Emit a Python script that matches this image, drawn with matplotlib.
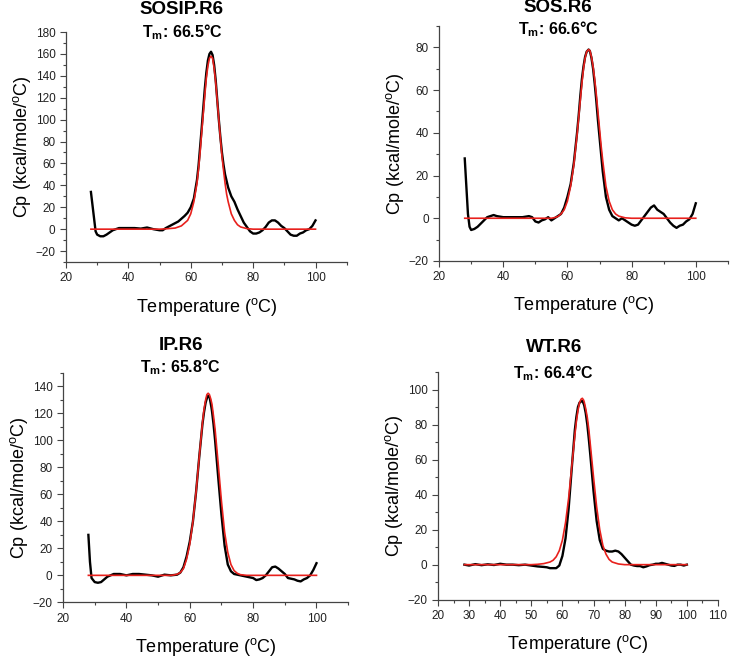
import matplotlib
matplotlib.use("Agg")
import matplotlib.pyplot as plt
from matplotlib.ticker import MultipleLocator

plt.rcParams["font.family"] = ["Liberation Sans", "DejaVu Sans"]
plt.rcParams["mathtext.fontset"] = "custom"
plt.rcParams["mathtext.rm"] = "Liberation Sans"
plt.rcParams["mathtext.bf"] = "Liberation Sans:bold"

# ---- SOSIP.R6 ----
sosip_t = [28, 29, 29.5, 30, 31, 32, 33, 34, 35, 36, 37, 40, 42, 44, 46, 48, 50, 51, 52, 54,
           56, 58, 59, 60, 61, 62, 62.5, 63, 63.5, 64, 64.5, 65, 65.5, 66, 66.5, 67, 67.5, 68,
           68.5, 69, 69.5, 70, 70.5, 71, 72, 73, 74, 75,
           76, 77, 78, 79, 80, 81, 82, 83, 84, 85, 86, 87, 88, 89, 90, 91, 92, 93, 94, 95,
           96, 97, 98, 99, 100]
sosip_cp = [34, 10, -2, -5, -6.5, -6.5, -5, -3, -1, 0, 1, 1, 1, 0.5, 1.5, 0, -1, -1, 1, 4,
            7, 12, 15, 20, 28, 45, 58, 75, 92, 110, 128, 143, 154, 160, 162, 159, 150, 136,
            118, 100, 84, 70, 59, 50, 38, 30, 25, 18,
            12, 6, 2, -2, -4, -4, -3, -1, 2, 6, 8, 8, 6, 3, 1, -2, -5, -6, -6, -4,
            -3, -1, 0, 3, 8]
sosip_fit_t = [28, 50, 52, 55, 57, 59, 60, 61, 62, 62.5, 63, 63.5, 64, 64.5, 65, 65.5, 66, 66.5,
               67, 67.5, 68, 68.5, 69, 69.5, 70, 70.5, 71, 71.5, 72, 73, 74, 75, 76, 78, 80, 100]
sosip_fit = [0, 0, 0.3, 1, 3, 8, 14, 25, 42, 55, 70, 88, 105, 122, 138, 149, 156, 158,
             156, 147, 134, 117, 100, 83, 67, 54, 42, 32, 25, 14, 8, 4, 2, 0.5, 0, 0]

# ---- SOS.R6 ----
sos_t = [28, 28.5, 29, 29.5, 30, 31, 32, 33, 34, 35, 36, 37, 38, 40, 42, 44, 46, 48, 49, 50,
         51, 52, 53, 54, 55, 56, 57, 58, 59, 60, 61, 62, 63, 63.5, 64, 64.5, 65, 65.5, 66,
         66.6, 67, 67.5, 68, 68.5, 69, 69.5,
         70, 71, 72, 73, 74, 75, 76, 77, 78, 79, 80, 81, 82, 83, 84, 85, 86, 87, 88, 89,
         90, 91, 92, 93, 94, 95, 96, 97, 98, 99, 100]
sos_cp = [28, 15, 2, -4, -5.5, -5, -4, -2.5, -1, 0.5, 1, 1.5, 1, 0.5, 0.5, 0.5, 0.5, 1, 0.5, -1.5,
          -2, -1, -0.5, 0.5, -1, 0, 1, 2, 5, 10, 16, 26, 40, 48, 57, 65, 71, 75.5, 78,
          79, 78.3, 75, 70, 63, 55, 46,
          38, 22, 10, 4, 1, 0, -1, 0, -1, -2, -3, -3.5, -3, -1, 1, 3, 5, 6, 4, 3,
          2, 0, -2, -3.5, -4.5, -3.5, -3, -1.5, -0.5, 2, 7]
sos_fit_t = [28, 55, 56, 57, 58, 59, 60, 61, 62, 63, 63.5, 64, 64.5, 65, 65.5, 66, 66.6, 67,
             67.5, 68, 68.5, 69, 69.5, 70, 70.5, 71, 72, 73, 74, 75, 76, 78, 80, 100]
sos_fit = [0, 0, 0.3, 0.8, 2, 4, 8, 15, 25, 39, 47, 55, 63, 70, 75, 78, 79, 78.5,
           75.5, 71, 65, 58, 50, 42, 34, 27, 15, 8, 4, 2, 1, 0.2, 0, 0]

# ---- IP.R6 ----
ip_t = [28, 28.5, 29, 30, 31, 32, 33, 34, 35, 36, 38, 40, 42, 44, 46, 48, 50, 52, 54, 56,
        57, 58, 59, 60, 61, 62, 63, 63.5, 64, 64.5, 65, 65.5, 65.8, 66.3, 66.8, 67, 67.5,
        68, 68.5, 69, 70, 71, 72, 73, 74, 76,
        78, 80, 81, 82, 83, 84, 85, 86, 87, 88, 89, 90, 91, 92, 93, 94, 95, 96, 97, 98,
        99, 100]
ip_cp = [30, 10, -2, -5, -5.5, -5, -3, -1, 0, 1, 1, 0, 1, 1, 0.5, 0, -1, 0.5, 0, 0.5,
         2, 6, 14, 25, 40, 62, 88, 100, 112, 121, 128, 132, 133, 131.5, 125, 122, 112,
         100, 86, 72, 45, 22, 8, 3, 1, 0,
         -1, -2, -3.5, -3, -2, 0, 3, 6, 6.5, 5, 3, 1, -2, -2.5, -3, -4, -4.5, -3, -2, 0,
         4, 9]
ip_fit_t = [28, 54, 55, 56, 57, 58, 59, 60, 61, 62, 63, 64, 64.5, 65, 65.4, 65.8, 66.2, 66.6,
            67, 67.5, 68, 68.5, 69, 70, 71, 72, 73, 74, 75, 76, 78, 100]
ip_fit = [0, 0, 0.3, 0.8, 2, 5, 12, 23, 40, 62, 88, 113, 123, 130, 134, 135, 134, 131,
          127, 118, 108, 95, 82, 55, 32, 17, 8, 3.5, 1.5, 0.5, 0, 0]

# ---- WT.R6 ----
wt_t = [28.5, 30, 32, 34, 36, 38, 40, 42, 44, 46, 48, 50, 52, 54, 55, 56, 57, 58, 59, 60,
        61, 62, 63, 64, 64.5, 65, 65.5, 66, 66.4, 66.8, 67, 67.5, 68, 68.5, 69, 70, 71, 72,
        73, 74, 75, 76, 77, 78, 79,
        80, 81, 82, 83, 84, 85, 86, 87, 88, 89, 90, 91, 92, 93, 94, 95, 96, 97, 98, 99, 100]
wt_cp = [0, -0.5, 0.3, -0.3, 0.2, -0.2, 0.5, 0, 0, -0.3, 0, -0.5, -1, -1.3, -1.5, -2, -2, -2, -0.5, 5,
         15, 32, 55, 77, 84.5, 90, 92.5, 93.3, 93.5, 92, 91, 86.5, 80, 71.5, 62, 42, 25, 14,
         9, 8, 7.5, 7.5, 8, 7.5, 6,
         4, 2, 0, -0.5, -0.8, -0.8, -1.5, -1, -0.3, 0, 0.5, 0.5, 1, 0.5, 0, -0.5, -0.7, 0, 0, -0.5, 0]
wt_fit_t = [28.5, 50, 52, 54, 56, 57, 58, 59, 60, 61, 62, 63, 64, 64.5, 65, 65.5, 66, 66.4,
            66.8, 67, 67.5, 68, 68.5, 69, 70, 71, 72, 73, 74, 75, 76, 78, 80, 100]
wt_fit = [0, 0, 0.2, 0.6, 1.5, 2.5, 4.5, 8, 14, 24, 38, 56, 74, 82, 88, 92.5, 94.5, 95,
          94, 93, 89, 84, 77, 68, 50, 33, 20, 11, 6, 3, 1.5, 0.4, 0, 0]

panels = [
    # name, tm, data, fit, axes rect, ylim, y major, x major, x minor, title y (px)
    ("SOSIP.R6", "66.5", (sosip_t, sosip_cp), (sosip_fit_t, sosip_fit),
     [0.090, 0.6024, 0.383, 0.349], (-30, 180), 20, 20, 10, (9, 32)),
    ("SOS.R6", "66.6", (sos_t, sos_cp), (sos_fit_t, sos_fit),
     [0.599, 0.604, 0.394, 0.3565], (-20, 90), 20, 20, 10, (8, 29)),
    ("IP.R6", "65.8", (ip_t, ip_cp), (ip_fit_t, ip_fit),
     [0.086, 0.086, 0.389, 0.348], (-20, 150), 20, 20, 10, (345, 367)),
    ("WT.R6", "66.4", (wt_t, wt_cp), (wt_fit_t, wt_fit),
     [0.5975, 0.090, 0.382, 0.3455], (-20, 110), 20, 10, 5, (348, 373)),
]

W, H = 733, 659
fig = plt.figure(figsize=(W / 100, H / 100), dpi=100)

for name, tm, (t, cp), (ft, fcp), rect, ylim, ymaj, xmaj, xmin, (ty1, ty2) in panels:
    ax = fig.add_axes(rect)
    ax.plot(t, cp, color="black", lw=1.7, zorder=2)
    ax.plot(ft, fcp, color="#e8201c", lw=1.2, zorder=3)
    ax.set_xlim(20, 110)
    ax.set_ylim(*ylim)
    ax.xaxis.set_major_locator(MultipleLocator(xmaj))
    ax.xaxis.set_minor_locator(MultipleLocator(xmin))
    ax.yaxis.set_major_locator(MultipleLocator(ymaj))
    ax.yaxis.set_minor_locator(MultipleLocator(ymaj / 2))
    if xmaj == 20:
        ax.set_xticks([20, 40, 60, 80, 100])
    for s in ("top", "right"):
        ax.spines[s].set_visible(False)
    for s in ("left", "bottom"):
        ax.spines[s].set_color("#444444")
        ax.spines[s].set_linewidth(0.9)
    ax.tick_params(which="major", length=4, width=0.8, color="#444444",
                   labelsize=8.5, labelcolor="#222222")
    ax.tick_params(which="minor", length=2.5, width=0.8, color="#444444")
    ax.set_xlabel("Temperature ($^{\\mathrm{o}}$C)", fontsize=13, labelpad=8)
    ax.set_ylabel("Cp (kcal/mole/$^{\\mathrm{o}}$C)", fontsize=13, labelpad=2)
    cx = rect[0] + rect[2] * 0.4
    fig.text(cx + 0.005, 1 - ty1 / H, name, ha="center", va="center",
             fontsize=13.5, fontweight="bold")
    fig.text(cx + 0.005, 1 - ty2 / H, "T$_\\mathbf{m}$: " + tm + "°C", ha="center",
             va="center", fontsize=11.5, fontweight="bold")

fig.savefig("out.png", dpi=100)
